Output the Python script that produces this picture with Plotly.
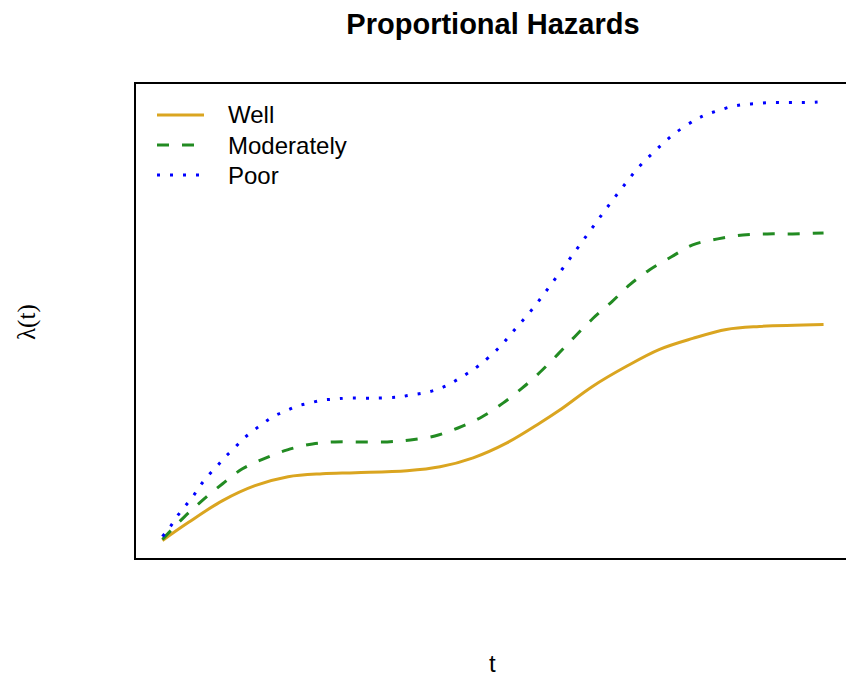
import plotly.graph_objects as go

# ---- data ----
t_well = [0.00, 0.39, 0.91, 1.40, 1.90, 2.42, 2.92, 3.70, 4.20, 4.70, 5.21, 5.71, 6.01, 6.51, 7.02, 7.52, 8.02, 8.53, 9.03, 10.00]
h_well = [0.05, 0.23, 0.45, 0.60, 0.69, 0.72, 0.73, 0.75, 0.79, 0.88, 1.03, 1.23, 1.36, 1.60, 1.80, 1.97, 2.08, 2.17, 2.20, 2.22]

t_mod = [0.00, 0.32, 0.60, 0.91, 1.21, 1.53, 1.89, 2.27, 2.61, 2.99, 3.40, 3.75, 4.12, 4.47, 4.83, 5.15,
         5.44, 5.71, 5.98, 6.24, 6.51, 6.80, 7.07, 7.37, 7.70, 8.02, 8.40, 8.78, 9.15, 9.53, 10.00]
h_mod = [0.06, 0.28, 0.45, 0.62, 0.77, 0.87, 0.96, 1.02, 1.04, 1.04, 1.04, 1.06, 1.10, 1.18, 1.29, 1.43,
         1.58, 1.74, 1.92, 2.10, 2.28, 2.45, 2.62, 2.77, 2.90, 3.02, 3.08, 3.12, 3.13, 3.13, 3.14]

t_poor = [0.00, 0.12, 0.23, 0.35, 0.47, 0.57, 0.69, 0.83, 0.95, 1.09, 1.22, 1.37, 1.53, 1.69, 1.86, 2.04,
          2.22, 2.42, 2.60, 2.79, 3.19, 3.56, 3.75, 3.94, 4.12, 4.31, 4.47, 4.64, 4.79, 5.08, 5.33, 5.59,
          5.82, 6.04, 6.27, 6.50, 6.72, 6.95, 7.19, 7.46, 7.75, 8.07, 8.23, 8.41, 8.61, 8.79, 8.99, 9.18,
          9.37, 9.56, 9.76, 10.00]
h_poor = [0.09, 0.19, 0.30, 0.40, 0.50, 0.60, 0.70, 0.80, 0.89, 0.98, 1.07, 1.15, 1.23, 1.30, 1.35, 1.40,
          1.43, 1.46, 1.47, 1.48, 1.48, 1.49, 1.51, 1.53, 1.56, 1.61, 1.67, 1.74, 1.81, 1.98, 2.17, 2.37,
          2.57, 2.77, 2.98, 3.19, 3.39, 3.59, 3.79, 3.97, 4.14, 4.28, 4.33, 4.37, 4.41, 4.43, 4.44, 4.45,
          4.45, 4.45, 4.45, 4.46]

series_names = ["Well", "Moderately", "Poor"]
series_colors = ["#DAA520", "#228B22", "#0000FF"]
series_dashes = ["solid", "12px,13px", "3px,10px"]

title_text = "Proportional Hazards"
x_label = "t"
y_label = "λ(t)"

# ---- figure ----
W, H = 846, 678
ML, MT, MB = 136, 84, 120
PW, PH = W - ML, H - MT - MB   # plot area in pixels


def px_x(p):   # pixel -> paper x
    return (p - ML) / PW


def px_y(p):   # pixel -> paper y
    return (H - MB - p) / PH


fig = go.Figure()
for tt, hh, nm, col, ds in zip([t_well, t_mod, t_poor], [h_well, h_mod, h_poor],
                               series_names, series_colors, series_dashes):
    fig.add_trace(go.Scatter(x=tt, y=hh, mode="lines", name=nm, showlegend=False,
                             line=dict(color=col, width=3, dash=ds, shape="spline", smoothing=1.0)))

# R-style 4% padded ranges
all_t = t_well + t_mod + t_poor
all_h = h_well + h_mod + h_poor
tmin, tmax = min(all_t), max(all_t)
hmin, hmax = min(all_h), max(all_h)
tpad = 0.04 * (tmax - tmin)
hpad = 0.04 * (hmax - hmin)
x0, x1 = tmin - tpad, tmax + tpad
# the R plot region extends a few pixels past the right edge of the image
x1 = x0 + (x1 - x0) * (PW / (PW + 4.0))

# legend drawn R-style (line samples + labels) in the top-left corner of the box
shapes = []
annotations = []
for i, (nm, col, ds) in enumerate(zip(series_names, series_colors, series_dashes)):
    yy = px_y(115 + 30 * i)
    shapes.append(dict(type="line", xref="paper", yref="paper",
                       x0=px_x(157), x1=px_x(204), y0=yy, y1=yy,
                       line=dict(color=col, width=3, dash=ds)))
    annotations.append(dict(text=nm, xref="paper", yref="paper", x=px_x(226), y=px_y(115 + 30 * i),
                            xanchor="left", yanchor="middle", showarrow=False,
                            font=dict(size=24, color="black")))

annotations += [
    dict(text=x_label, xref="paper", yref="paper", x=px_x(492), y=px_y(663),
         xanchor="center", yanchor="middle", showarrow=False, font=dict(size=24)),
    dict(text=y_label, xref="paper", yref="paper", x=px_x(27), y=px_y(322),
         xanchor="center", yanchor="middle", showarrow=False, textangle=-90,
         font=dict(size=25, family="Liberation Serif, Times New Roman, serif")),
]

fig.update_layout(
    width=W, height=H,
    margin=dict(l=ML, r=0, t=MT, b=MB),
    paper_bgcolor="white", plot_bgcolor="white",
    font=dict(family="Liberation Sans, Arial, Helvetica, sans-serif", color="black", size=24),
    title=dict(text="<b>" + title_text + "</b>", font=dict(size=29, color="black"),
               x=493 / W, xref="container", xanchor="center",
               y=1 - 24 / H, yref="container", yanchor="middle"),
    showlegend=False,
    xaxis=dict(range=[x0, x1], showgrid=False, zeroline=False, showticklabels=False, ticks="",
               showline=True, linecolor="black", linewidth=1.5, mirror=True),
    yaxis=dict(range=[hmin - hpad, hmax + hpad], showgrid=False, zeroline=False, showticklabels=False,
               ticks="", showline=True, linecolor="black", linewidth=1.5, mirror=False),
    shapes=shapes,
    annotations=annotations,
)

fig.write_html("out.html")
